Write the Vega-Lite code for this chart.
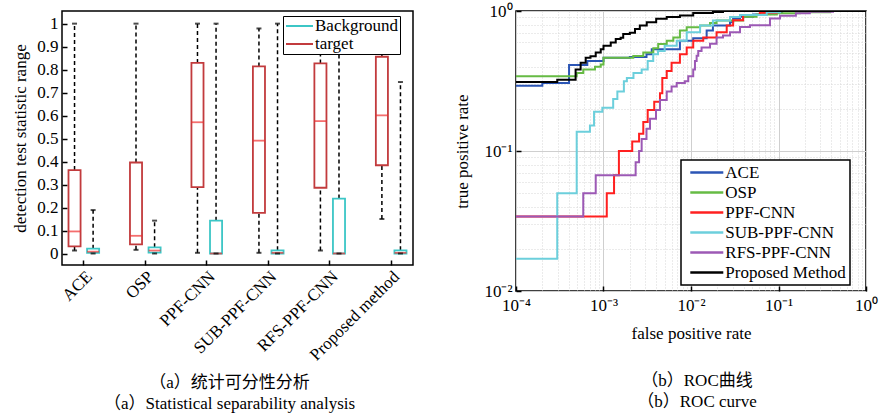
{
  "$schema": "https://vega.github.io/schema/vega-lite/v6.json",
  "padding": {"left": 11, "top": 1, "right": 0, "bottom": 0},
  "spacing": 39,
  "columns": 2,
  "align": "none",
  "resolve": {"legend": {"color": "independent", "stroke": "independent"}, "scale": {"color": "independent", "stroke": "independent"}},
  "config": {
    "font": "Times New Roman, Liberation Serif, serif",
    "view": {"stroke": "black", "strokeWidth": 1.5},
    "axis": {"labelFont": "Times New Roman, Liberation Serif, serif", "titleFont": "Times New Roman, Liberation Serif, serif", "labelFontSize": 17, "titleFontSize": 17, "titleFontWeight": "normal", "labelColor": "black", "titleColor": "black", "domain": false, "tickColor": "black", "tickWidth": 1.5},
    "legend": {"labelFont": "Times New Roman, Liberation Serif, serif", "labelFontSize": 17, "labelColor": "black"}
  },
  "concat": [
    {
      "width": 351,
      "height": 254,
      "title": {"text": ["（a）统计可分性分析", "（a）Statistical separability analysis"], "orient": "bottom", "anchor": "middle", "frame": "group", "dx": -8, "offset": 12, "fontSize": 17, "fontWeight": "normal", "font": "Times New Roman, Liberation Serif, Noto Sans CJK SC", "lineHeight": 21, "color": "black"},
      "data": {"values": [
        {"method": "ACE", "cls": "target", "lo": 0.013, "q1": 0.031, "med": 0.096, "q3": 0.363, "hi": 1.0},
        {"method": "ACE", "cls": "Background", "lo": 0.0, "q1": 0.003, "med": 0.008, "q3": 0.021, "hi": 0.189},
        {"method": "OSP", "cls": "target", "lo": 0.016, "q1": 0.04, "med": 0.077, "q3": 0.396, "hi": 1.0},
        {"method": "OSP", "cls": "Background", "lo": 0.0, "q1": 0.004, "med": 0.013, "q3": 0.027, "hi": 0.143},
        {"method": "PPF-CNN", "cls": "target", "lo": 0.003, "q1": 0.289, "med": 0.571, "q3": 0.829, "hi": 1.0},
        {"method": "PPF-CNN", "cls": "Background", "lo": 0.0, "q1": 0.0, "med": 0.0, "q3": 0.143, "hi": 1.0},
        {"method": "SUB-PPF-CNN", "cls": "target", "lo": 0.003, "q1": 0.177, "med": 0.491, "q3": 0.814, "hi": 0.979},
        {"method": "SUB-PPF-CNN", "cls": "Background", "lo": 0.0, "q1": 0.0, "med": 0.003, "q3": 0.014, "hi": 1.0},
        {"method": "RFS-PPF-CNN", "cls": "target", "lo": 0.013, "q1": 0.286, "med": 0.576, "q3": 0.827, "hi": 1.0},
        {"method": "RFS-PPF-CNN", "cls": "Background", "lo": 0.0, "q1": 0.0, "med": 0.0, "q3": 0.239, "hi": 1.0},
        {"method": "Proposed method", "cls": "target", "lo": 0.15, "q1": 0.384, "med": 0.601, "q3": 0.856, "hi": 1.0},
        {"method": "Proposed method", "cls": "Background", "lo": 0.0, "q1": 0.0, "med": 0.003, "q3": 0.014, "hi": 0.746}
      ]},
      "encoding": {
        "x": {"field": "method", "type": "nominal", "sort": ["ACE", "OSP", "PPF-CNN", "SUB-PPF-CNN", "RFS-PPF-CNN", "Proposed method"], "scale": {"paddingInner": 0.29, "paddingOuter": 0}, "axis": {"title": null, "labelAngle": -45, "labelAlign": "right", "labelBaseline": "top", "tickSize": -5, "labelPadding": 8}},
        "xOffset": {"field": "cls", "type": "nominal", "sort": ["target", "Background"], "scale": {"paddingInner": 0.35, "paddingOuter": 0.35}}
      },
      "layer": [
        {
          "mark": {"type": "rule", "color": "black", "strokeWidth": 1.5, "strokeDash": [4, 3]},
          "encoding": {
            "y": {"field": "q3", "type": "quantitative", "scale": {"domain": [-0.05, 1.055], "nice": false, "zero": false}, "axis": {"values": [0, 0.1, 0.2, 0.3, 0.4, 0.5, 0.6, 0.7, 0.8, 0.9, 1], "format": "~g", "labelOverlap": false, "title": "detection test statistic range", "tickSize": -5, "labelPadding": 9, "titlePadding": 7, "grid": false}},
            "y2": {"field": "hi"}
          }
        },
        {
          "mark": {"type": "rule", "color": "black", "strokeWidth": 1.5, "strokeDash": [4, 3]},
          "encoding": {
            "y": {"field": "lo", "type": "quantitative", "axis": {"values": [0, 0.1, 0.2, 0.3, 0.4, 0.5, 0.6, 0.7, 0.8, 0.9, 1], "format": "~g", "labelOverlap": false, "title": "detection test statistic range", "tickSize": -5, "labelPadding": 9, "titlePadding": 7, "grid": false}},
            "y2": {"field": "q1"}
          }
        },
        {
          "mark": {"type": "bar", "fill": "transparent", "strokeWidth": 1.8},
          "encoding": {
            "y": {"field": "q1", "type": "quantitative", "axis": {"values": [0, 0.1, 0.2, 0.3, 0.4, 0.5, 0.6, 0.7, 0.8, 0.9, 1], "format": "~g", "labelOverlap": false, "title": "detection test statistic range", "tickSize": -5, "labelPadding": 9, "titlePadding": 7, "grid": false}},
            "y2": {"field": "q3"},
            "stroke": {"field": "cls", "type": "nominal", "scale": {"domain": ["Background", "target"], "range": ["#3cc6c6", "#c23b3d"]}, "legend": {"title": null, "orient": "none", "legendX": 221, "legendY": 5, "padding": 1.5, "rowPadding": 0, "symbolType": "M-2.7,0H2.7", "symbolSize": 100, "symbolStrokeWidth": 2, "symbolOffset": 6.5, "labelOffset": 7, "strokeColor": "black", "fillColor": "white", "encode": {"legend": {"update": {"strokeWidth": {"value": 1.5}}}}}}
          }
        },
        {
          "mark": {"type": "tick", "color": "#f03030", "size": 12, "thickness": 1.8, "orient": "horizontal"},
          "encoding": {"y": {"field": "med", "type": "quantitative", "axis": {"values": [0, 0.1, 0.2, 0.3, 0.4, 0.5, 0.6, 0.7, 0.8, 0.9, 1], "format": "~g", "labelOverlap": false, "title": "detection test statistic range", "tickSize": -5, "labelPadding": 9, "titlePadding": 7, "grid": false}}}
        },
        {
          "mark": {"type": "tick", "color": "black", "size": 5, "thickness": 2, "orient": "horizontal"},
          "encoding": {"y": {"field": "hi", "type": "quantitative", "axis": {"values": [0, 0.1, 0.2, 0.3, 0.4, 0.5, 0.6, 0.7, 0.8, 0.9, 1], "format": "~g", "labelOverlap": false, "title": "detection test statistic range", "tickSize": -5, "labelPadding": 9, "titlePadding": 7, "grid": false}}}
        },
        {
          "mark": {"type": "tick", "color": "black", "size": 5, "thickness": 2, "orient": "horizontal"},
          "encoding": {"y": {"field": "lo", "type": "quantitative", "axis": {"values": [0, 0.1, 0.2, 0.3, 0.4, 0.5, 0.6, 0.7, 0.8, 0.9, 1], "format": "~g", "labelOverlap": false, "title": "detection test statistic range", "tickSize": -5, "labelPadding": 9, "titlePadding": 7, "grid": false}}}
        }
      ]
    },
    {
      "width": 350,
      "height": 280,
      "title": {"text": ["（b）ROC曲线", "（b）ROC curve"], "orient": "bottom", "anchor": "middle", "frame": "group", "dx": 6, "offset": 32, "fontSize": 17, "fontWeight": "normal", "font": "Times New Roman, Liberation Serif, Noto Sans CJK SC", "lineHeight": 21, "color": "black"},
      "data": {"values": [
        {"method": "ACE", "fpr": 0.0001, "tpr": 0.292},
        {"method": "ACE", "fpr": 0.0002, "tpr": 0.306},
        {"method": "ACE", "fpr": 0.000404, "tpr": 0.411},
        {"method": "ACE", "fpr": 0.000653, "tpr": 0.44},
        {"method": "ACE", "fpr": 0.001, "tpr": 0.464},
        {"method": "ACE", "fpr": 0.002, "tpr": 0.47},
        {"method": "ACE", "fpr": 0.0031, "tpr": 0.49},
        {"method": "ACE", "fpr": 0.00356, "tpr": 0.533},
        {"method": "ACE", "fpr": 0.00747, "tpr": 0.613},
        {"method": "ACE", "fpr": 0.0106, "tpr": 0.64},
        {"method": "ACE", "fpr": 0.0151, "tpr": 0.725},
        {"method": "ACE", "fpr": 0.0178, "tpr": 0.788},
        {"method": "ACE", "fpr": 0.0279, "tpr": 0.832},
        {"method": "ACE", "fpr": 0.0303, "tpr": 0.88},
        {"method": "ACE", "fpr": 0.0363, "tpr": 0.91},
        {"method": "ACE", "fpr": 0.0512, "tpr": 0.946},
        {"method": "ACE", "fpr": 0.0733, "tpr": 0.97},
        {"method": "ACE", "fpr": 0.11, "tpr": 1.0},
        {"method": "ACE", "fpr": 1, "tpr": 1.0},
        {"method": "OSP", "fpr": 0.0001, "tpr": 0.342},
        {"method": "OSP", "fpr": 0.000494, "tpr": 0.36},
        {"method": "OSP", "fpr": 0.000587, "tpr": 0.382},
        {"method": "OSP", "fpr": 0.0008, "tpr": 0.4},
        {"method": "OSP", "fpr": 0.00093, "tpr": 0.415},
        {"method": "OSP", "fpr": 0.001, "tpr": 0.464},
        {"method": "OSP", "fpr": 0.00219, "tpr": 0.477},
        {"method": "OSP", "fpr": 0.00285, "tpr": 0.505},
        {"method": "OSP", "fpr": 0.00371, "tpr": 0.542},
        {"method": "OSP", "fpr": 0.00422, "tpr": 0.58},
        {"method": "OSP", "fpr": 0.00528, "tpr": 0.613},
        {"method": "OSP", "fpr": 0.00628, "tpr": 0.648},
        {"method": "OSP", "fpr": 0.00747, "tpr": 0.725},
        {"method": "OSP", "fpr": 0.00893, "tpr": 0.766},
        {"method": "OSP", "fpr": 0.0127, "tpr": 0.788},
        {"method": "OSP", "fpr": 0.0165, "tpr": 0.82},
        {"method": "OSP", "fpr": 0.0196, "tpr": 0.857},
        {"method": "OSP", "fpr": 0.0394, "tpr": 0.91},
        {"method": "OSP", "fpr": 0.0561, "tpr": 0.946},
        {"method": "OSP", "fpr": 0.0957, "tpr": 0.962},
        {"method": "OSP", "fpr": 0.175, "tpr": 0.978},
        {"method": "OSP", "fpr": 0.39, "tpr": 1.0},
        {"method": "OSP", "fpr": 1, "tpr": 1.0},
        {"method": "PPF-CNN", "fpr": 0.0001, "tpr": 0.034},
        {"method": "PPF-CNN", "fpr": 0.00109, "tpr": 0.05},
        {"method": "PPF-CNN", "fpr": 0.00132, "tpr": 0.067},
        {"method": "PPF-CNN", "fpr": 0.0015, "tpr": 0.1},
        {"method": "PPF-CNN", "fpr": 0.00213, "tpr": 0.117},
        {"method": "PPF-CNN", "fpr": 0.00255, "tpr": 0.133},
        {"method": "PPF-CNN", "fpr": 0.00285, "tpr": 0.161},
        {"method": "PPF-CNN", "fpr": 0.0032, "tpr": 0.196},
        {"method": "PPF-CNN", "fpr": 0.0038, "tpr": 0.225},
        {"method": "PPF-CNN", "fpr": 0.00442, "tpr": 0.259},
        {"method": "PPF-CNN", "fpr": 0.0047, "tpr": 0.332},
        {"method": "PPF-CNN", "fpr": 0.00528, "tpr": 0.372},
        {"method": "PPF-CNN", "fpr": 0.006, "tpr": 0.427},
        {"method": "PPF-CNN", "fpr": 0.00747, "tpr": 0.491},
        {"method": "PPF-CNN", "fpr": 0.00893, "tpr": 0.548},
        {"method": "PPF-CNN", "fpr": 0.0106, "tpr": 0.613},
        {"method": "PPF-CNN", "fpr": 0.0138, "tpr": 0.648},
        {"method": "PPF-CNN", "fpr": 0.0196, "tpr": 0.705},
        {"method": "PPF-CNN", "fpr": 0.0256, "tpr": 0.788},
        {"method": "PPF-CNN", "fpr": 0.0303, "tpr": 0.86},
        {"method": "PPF-CNN", "fpr": 0.0394, "tpr": 0.936},
        {"method": "PPF-CNN", "fpr": 0.0612, "tpr": 0.97},
        {"method": "PPF-CNN", "fpr": 0.0957, "tpr": 1.0},
        {"method": "PPF-CNN", "fpr": 1, "tpr": 1.0},
        {"method": "SUB-PPF-CNN", "fpr": 0.0001, "tpr": 0.017},
        {"method": "SUB-PPF-CNN", "fpr": 0.000296, "tpr": 0.05},
        {"method": "SUB-PPF-CNN", "fpr": 0.000494, "tpr": 0.137},
        {"method": "SUB-PPF-CNN", "fpr": 0.0007, "tpr": 0.152},
        {"method": "SUB-PPF-CNN", "fpr": 0.00078, "tpr": 0.191},
        {"method": "SUB-PPF-CNN", "fpr": 0.00097, "tpr": 0.204},
        {"method": "SUB-PPF-CNN", "fpr": 0.00129, "tpr": 0.235},
        {"method": "SUB-PPF-CNN", "fpr": 0.00144, "tpr": 0.266},
        {"method": "SUB-PPF-CNN", "fpr": 0.00171, "tpr": 0.315},
        {"method": "SUB-PPF-CNN", "fpr": 0.00185, "tpr": 0.332},
        {"method": "SUB-PPF-CNN", "fpr": 0.0022, "tpr": 0.361},
        {"method": "SUB-PPF-CNN", "fpr": 0.00273, "tpr": 0.382},
        {"method": "SUB-PPF-CNN", "fpr": 0.0032, "tpr": 0.44},
        {"method": "SUB-PPF-CNN", "fpr": 0.0037, "tpr": 0.491},
        {"method": "SUB-PPF-CNN", "fpr": 0.0042, "tpr": 0.519},
        {"method": "SUB-PPF-CNN", "fpr": 0.005, "tpr": 0.564},
        {"method": "SUB-PPF-CNN", "fpr": 0.00687, "tpr": 0.613},
        {"method": "SUB-PPF-CNN", "fpr": 0.00893, "tpr": 0.705},
        {"method": "SUB-PPF-CNN", "fpr": 0.0127, "tpr": 0.788},
        {"method": "SUB-PPF-CNN", "fpr": 0.0178, "tpr": 0.857},
        {"method": "SUB-PPF-CNN", "fpr": 0.0279, "tpr": 0.905},
        {"method": "SUB-PPF-CNN", "fpr": 0.0363, "tpr": 0.936},
        {"method": "SUB-PPF-CNN", "fpr": 0.0733, "tpr": 0.978},
        {"method": "SUB-PPF-CNN", "fpr": 0.104, "tpr": 1.0},
        {"method": "SUB-PPF-CNN", "fpr": 1, "tpr": 1.0},
        {"method": "RFS-PPF-CNN", "fpr": 0.0001, "tpr": 0.034},
        {"method": "RFS-PPF-CNN", "fpr": 0.000587, "tpr": 0.05},
        {"method": "RFS-PPF-CNN", "fpr": 0.000815, "tpr": 0.067},
        {"method": "RFS-PPF-CNN", "fpr": 0.00233, "tpr": 0.083},
        {"method": "RFS-PPF-CNN", "fpr": 0.00255, "tpr": 0.1},
        {"method": "RFS-PPF-CNN", "fpr": 0.00273, "tpr": 0.122},
        {"method": "RFS-PPF-CNN", "fpr": 0.0031, "tpr": 0.144},
        {"method": "RFS-PPF-CNN", "fpr": 0.0034, "tpr": 0.17},
        {"method": "RFS-PPF-CNN", "fpr": 0.00398, "tpr": 0.196},
        {"method": "RFS-PPF-CNN", "fpr": 0.00442, "tpr": 0.231},
        {"method": "RFS-PPF-CNN", "fpr": 0.00528, "tpr": 0.266},
        {"method": "RFS-PPF-CNN", "fpr": 0.006, "tpr": 0.289},
        {"method": "RFS-PPF-CNN", "fpr": 0.00687, "tpr": 0.306},
        {"method": "RFS-PPF-CNN", "fpr": 0.0085, "tpr": 0.315},
        {"method": "RFS-PPF-CNN", "fpr": 0.0093, "tpr": 0.342},
        {"method": "RFS-PPF-CNN", "fpr": 0.0106, "tpr": 0.382},
        {"method": "RFS-PPF-CNN", "fpr": 0.0111, "tpr": 0.44},
        {"method": "RFS-PPF-CNN", "fpr": 0.0116, "tpr": 0.48},
        {"method": "RFS-PPF-CNN", "fpr": 0.0121, "tpr": 0.519},
        {"method": "RFS-PPF-CNN", "fpr": 0.0132, "tpr": 0.548},
        {"method": "RFS-PPF-CNN", "fpr": 0.0165, "tpr": 0.583},
        {"method": "RFS-PPF-CNN", "fpr": 0.0196, "tpr": 0.648},
        {"method": "RFS-PPF-CNN", "fpr": 0.0232, "tpr": 0.667},
        {"method": "RFS-PPF-CNN", "fpr": 0.0279, "tpr": 0.705},
        {"method": "RFS-PPF-CNN", "fpr": 0.0363, "tpr": 0.77},
        {"method": "RFS-PPF-CNN", "fpr": 0.0472, "tpr": 0.792},
        {"method": "RFS-PPF-CNN", "fpr": 0.0799, "tpr": 0.885},
        {"method": "RFS-PPF-CNN", "fpr": 0.104, "tpr": 0.925},
        {"method": "RFS-PPF-CNN", "fpr": 0.158, "tpr": 0.962},
        {"method": "RFS-PPF-CNN", "fpr": 0.228, "tpr": 0.988},
        {"method": "RFS-PPF-CNN", "fpr": 0.42, "tpr": 1.0},
        {"method": "RFS-PPF-CNN", "fpr": 1, "tpr": 1.0},
        {"method": "Proposed Method", "fpr": 0.0001, "tpr": 0.311},
        {"method": "Proposed Method", "fpr": 0.000296, "tpr": 0.323},
        {"method": "Proposed Method", "fpr": 0.00048, "tpr": 0.382},
        {"method": "Proposed Method", "fpr": 0.000548, "tpr": 0.427},
        {"method": "Proposed Method", "fpr": 0.000626, "tpr": 0.464},
        {"method": "Proposed Method", "fpr": 0.00071, "tpr": 0.475},
        {"method": "Proposed Method", "fpr": 0.000815, "tpr": 0.505},
        {"method": "Proposed Method", "fpr": 0.00093, "tpr": 0.533},
        {"method": "Proposed Method", "fpr": 0.001, "tpr": 0.564},
        {"method": "Proposed Method", "fpr": 0.00121, "tpr": 0.596},
        {"method": "Proposed Method", "fpr": 0.00138, "tpr": 0.63},
        {"method": "Proposed Method", "fpr": 0.00157, "tpr": 0.645},
        {"method": "Proposed Method", "fpr": 0.00168, "tpr": 0.685},
        {"method": "Proposed Method", "fpr": 0.002, "tpr": 0.7},
        {"method": "Proposed Method", "fpr": 0.00229, "tpr": 0.745},
        {"method": "Proposed Method", "fpr": 0.0026, "tpr": 0.788},
        {"method": "Proposed Method", "fpr": 0.00312, "tpr": 0.832},
        {"method": "Proposed Method", "fpr": 0.004, "tpr": 0.88},
        {"method": "Proposed Method", "fpr": 0.00528, "tpr": 0.905},
        {"method": "Proposed Method", "fpr": 0.00747, "tpr": 0.93},
        {"method": "Proposed Method", "fpr": 0.0106, "tpr": 0.967},
        {"method": "Proposed Method", "fpr": 0.0178, "tpr": 0.983},
        {"method": "Proposed Method", "fpr": 0.0232, "tpr": 1.0},
        {"method": "Proposed Method", "fpr": 1, "tpr": 1.0}
      ]},
      "mark": {"type": "line", "interpolate": "step-after", "strokeWidth": 2, "clip": true},
      "encoding": {
        "x": {"field": "fpr", "type": "quantitative", "scale": {"type": "log", "domain": [0.0001, 1], "nice": false}, "axis": {
          "title": "false positive rate", "titlePadding": 12,
          "values": [0.0001, 0.0002, 0.0003, 0.0004, 0.0005, 0.0006, 0.0007, 0.0008, 0.0009, 0.001, 0.002, 0.003, 0.004, 0.005, 0.006, 0.007, 0.008, 0.009, 0.01, 0.02, 0.03, 0.04, 0.05, 0.06, 0.07, 0.08, 0.09, 0.1, 0.2, 0.3, 0.4, 0.5, 0.6, 0.7, 0.8, 0.9, 1],
          "labelExpr": "abs(log(datum.value)/LN10 - round(log(datum.value)/LN10)) < 0.001 ? '10' + ['⁻⁴','⁻³','⁻²','⁻¹','⁰'][round(log(datum.value)/LN10) + 4] : ''",
          "labelFlush": false, "labelOverlap": false, "labelPadding": 11, "tickSize": -5,
          "grid": true,
          "gridColor": {"condition": {"test": "abs(log(datum.value)/LN10 - round(log(datum.value)/LN10)) < 0.001", "value": "#cfcfcf"}, "value": "#d6d6d6"},
          "gridDash": {"condition": {"test": "abs(log(datum.value)/LN10 - round(log(datum.value)/LN10)) < 0.001", "value": []}, "value": [1, 2]},
          "tickOpacity": {"condition": {"test": "abs(log(datum.value)/LN10 - round(log(datum.value)/LN10)) < 0.001", "value": 1}, "value": 0}
        }},
        "y": {"field": "tpr", "type": "quantitative", "scale": {"type": "log", "domain": [0.01, 1], "nice": false}, "axis": {
          "title": "true positive rate", "titlePadding": 12,
          "values": [0.01, 0.02, 0.03, 0.04, 0.05, 0.06, 0.07, 0.08, 0.09, 0.1, 0.2, 0.3, 0.4, 0.5, 0.6, 0.7, 0.8, 0.9, 1],
          "labelExpr": "abs(log(datum.value)/LN10 - round(log(datum.value)/LN10)) < 0.001 ? '10' + ['⁻²','⁻¹','⁰'][round(log(datum.value)/LN10) + 2] : ''",
          "labelOverlap": false, "labelPadding": 9, "tickSize": -5,
          "grid": true,
          "gridColor": {"condition": {"test": "abs(log(datum.value)/LN10 - round(log(datum.value)/LN10)) < 0.001", "value": "#cfcfcf"}, "value": "#d6d6d6"},
          "gridDash": {"condition": {"test": "abs(log(datum.value)/LN10 - round(log(datum.value)/LN10)) < 0.001", "value": []}, "value": [1, 2]},
          "tickOpacity": {"condition": {"test": "abs(log(datum.value)/LN10 - round(log(datum.value)/LN10)) < 0.001", "value": 1}, "value": 0}
        }},
        "color": {"field": "method", "type": "nominal", "sort": ["ACE", "OSP", "PPF-CNN", "SUB-PPF-CNN", "RFS-PPF-CNN", "Proposed Method"], "scale": {"domain": ["ACE", "OSP", "PPF-CNN", "SUB-PPF-CNN", "RFS-PPF-CNN", "Proposed Method"], "range": ["#2b55b5", "#66bb44", "#ff2020", "#6ccfdc", "#9c59b5", "#000000"]}, "legend": {"title": null, "orient": "none", "legendX": 165, "legendY": 149, "padding": 4, "rowPadding": 2, "symbolType": "M-3.3,0H3.3", "symbolSize": 100, "symbolStrokeWidth": 2.5, "symbolOffset": 13.3, "labelOffset": 10, "strokeColor": "black", "fillColor": "white", "encode": {"legend": {"update": {"strokeWidth": {"value": 1.5}}}}}}
      }
    }
  ]
}
